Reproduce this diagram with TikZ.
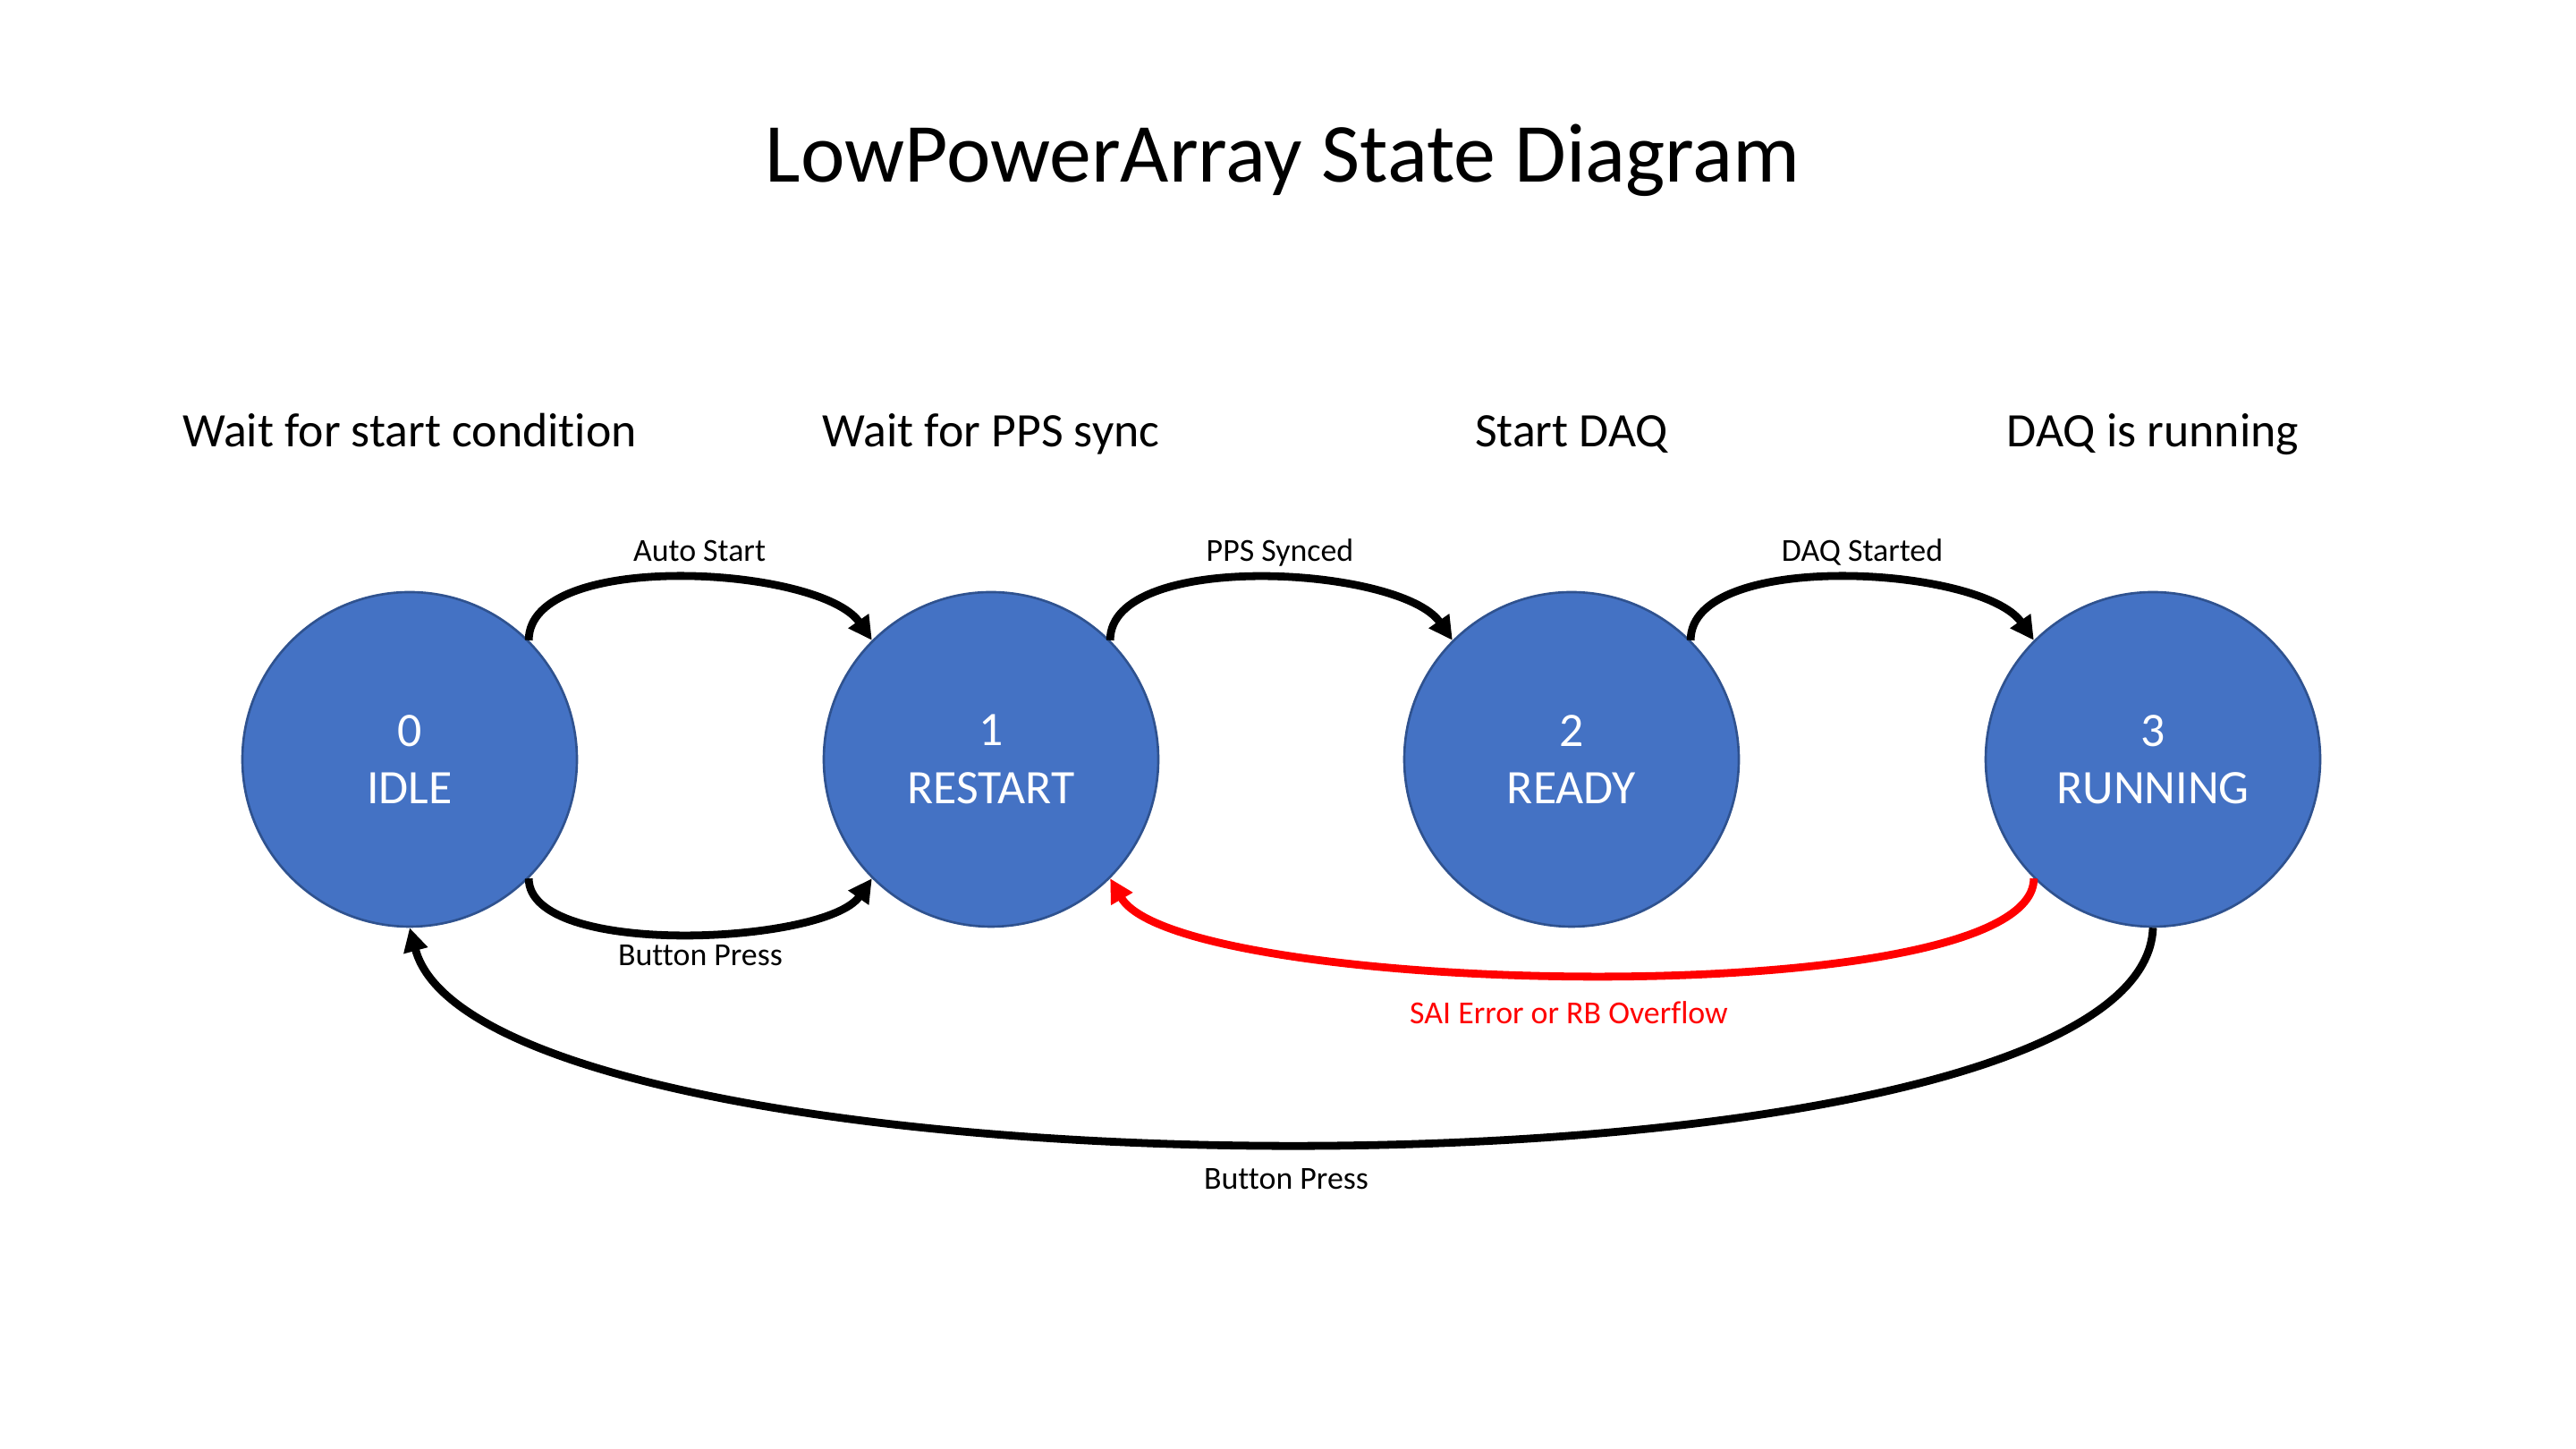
\documentclass[tikz,border=0pt]{standalone}
\usepackage{fontspec}
\setmainfont{Carlito}[Ligatures=NoCommon]
\usepackage[svgnames, dvipsnames]{xcolor}
\usetikzlibrary{calc, arrows.meta}
\definecolor{StateBlue}{HTML}{4472C4}
\definecolor{StateRim}{HTML}{2F528F}

\begin{document}
\begin{tikzpicture}[state/.style={circle, fill=StateBlue, draw=StateRim, line width=0.75pt, minimum size=3.74cm, inner sep=0, text=white, align=center, font=\fontsize{15.3}{18.3}\selectfont},
head/.style={anchor=base, font=\fontsize{15.3}{18.3}\selectfont},
lbl/.style={anchor=base, font=\fontsize{10.2}{12}\selectfont},
arc/.style={line width=2.5pt, -{Triangle[length=7.5pt, width=7.5pt]}}]
\useasboundingbox (0,0) rectangle (28.8,16.2);
\node[anchor=base, font=\fontsize{26.7}{32}\selectfont] (title) at (14.34,14.16) {LowPowerArray State Diagram};
\node[state] (s0) at (4.58,7.71) {0\\IDLE};
\node[state] (s1) at (11.08,7.71) {1\\RESTART};
\node[state] (s2) at (17.57,7.71) {2\\READY};
\node[state] (s3) at (24.07,7.71) {3\\RUNNING};
\node[head] (h0) at (s0 |- 0,11.2) {Wait for start condition};
\node[head] (h1) at (s1 |- 0,11.2) {Wait for PPS sync};
\node[head] (h2) at (s2 |- 0,11.2) {Start DAQ};
\node[head] (h3) at (s3 |- 0,11.2) {DAQ is running};
\draw[arc] (s0.45) to[out=90, in=125, looseness=0.68] (s1.135);
\draw[arc] (s1.45) to[out=90, in=125, looseness=0.68] (s2.135);
\draw[arc] (s2.45) to[out=90, in=125, looseness=0.68] (s3.135);
\draw[arc] (s0.-45) to[out=-90, in=-125, looseness=0.6] (s1.-135);
\draw[arc, red] (s3.-135) to[out=-90, in=-60, looseness=0.38] (s1.-45);
\draw[arc] (s3.south) to[out=-92, in=-75, looseness=0.43] (s0.south);
\node[lbl] (auto) at (7.82,9.92) {Auto Start};
\node[lbl] (pps) at (14.31,9.92) {PPS Synced};
\node[lbl] (daq) at (20.82,9.92) {DAQ Started};
\node[lbl] (btn) at (7.83,5.40) {Button Press};
\node[lbl, red] (err) at (17.54,4.75) {SAI Error or RB Overflow};
\node[lbl] (btnall) at (14.38,2.90) {Button Press};
\end{tikzpicture}
\end{document}
